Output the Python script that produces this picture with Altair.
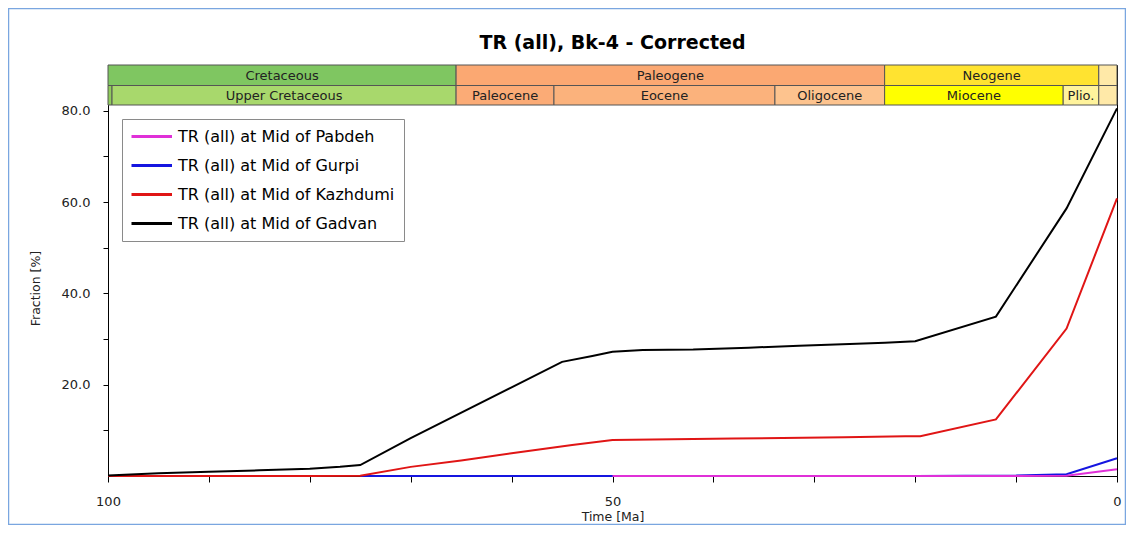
import altair as alt
import pandas as pd

# ---------------- data ----------------
title_text = "TR (all), Bk-4 - Corrected"
series_labels = ["TR (all) at Mid of Pabdeh", "TR (all) at Mid of Gurpi",
                 "TR (all) at Mid of Kazhdumi", "TR (all) at Mid of Gadvan"]
series_colors = ["#E030D8", "#1515E0", "#E01515", "#000000"]

pabdeh_t = [50, 40, 30, 20, 10, 5, 0]
pabdeh_v = [0, 0, 0, 0, 0, 0.05, 1.5]
gurpi_t = [75, 65, 50, 30, 20, 10, 5, 0]
gurpi_v = [0, 0, 0, 0, 0, 0.1, 0.4, 3.9]
kazhdumi_t = [100, 90, 80, 75, 70, 65, 60, 54, 50, 38, 27, 21, 19.5, 12, 5, 0]
kazhdumi_v = [0, 0, 0, 0.05, 2.0, 3.4, 5.0, 6.8, 7.9, 8.2, 8.5, 8.7, 8.7, 12.4, 32.3, 60.8]
gadvan_t = [100, 95, 90, 85, 80, 77, 75, 70, 60, 55, 52, 50, 47, 42, 36.5, 31.5,
            26.5, 23, 20, 12, 5, 0]
gadvan_v = [0.1, 0.6, 0.95, 1.25, 1.6, 2.0, 2.4, 8.3, 19.4, 25.0, 26.3, 27.2, 27.6,
            27.7, 28.1, 28.5, 28.9, 29.2, 29.5, 34.9, 58.6, 80.5]

period_names = ["Cretaceous", "Paleogene", "Neogene", ""]
period_start = [100, 65.5, 23.03, 1.806]
period_end = [65.5, 23.03, 1.806, 0]
period_colors = ["#7FC661", "#FBA872", "#FFE330", "#FFE9A8"]

epoch_names = ["", "Upper Cretaceous", "Paleocene", "Eocene", "Oligocene",
               "Miocene", "Plio.", ""]
epoch_start = [100, 99.6, 65.5, 55.8, 33.9, 23.03, 5.332, 1.806]
epoch_end = [99.6, 65.5, 55.8, 33.9, 23.03, 5.332, 1.806, 0]
epoch_colors = ["#8FCB5A", "#A8D86C", "#FBAB76", "#FBB27C", "#FDC38E",
                "#FFFF00", "#FFF39C", "#FFE9A8"]

x_ticks = list(range(0, 101, 10))
y_ticks = list(range(10, 81, 10))

# ---------------- tables ----------------
series_data = {
    "TR (all) at Mid of Pabdeh": (pabdeh_t, pabdeh_v),
    "TR (all) at Mid of Gurpi": (gurpi_t, gurpi_v),
    "TR (all) at Mid of Kazhdumi": (kazhdumi_t, kazhdumi_v),
    "TR (all) at Mid of Gadvan": (gadvan_t, gadvan_v),
}
draw_order = ["TR (all) at Mid of Gurpi", "TR (all) at Mid of Pabdeh",
              "TR (all) at Mid of Kazhdumi", "TR (all) at Mid of Gadvan"]

periods = pd.DataFrame({"name": period_names, "start": period_start,
                        "end": period_end, "col": period_colors})
periods["mid"] = (periods["start"] + periods["end"]) / 2
epochs = pd.DataFrame({"name": epoch_names, "start": epoch_start,
                       "end": epoch_end, "col": epoch_colors})
epochs["mid"] = (epochs["start"] + epochs["end"]) / 2

FONT = "DejaVu Sans"
xscale = alt.Scale(domain=[0, 100], reverse=True, nice=False, zero=False)
yscale = alt.Scale(domain=[0, 90], nice=False, zero=True)

x_axis = alt.Axis(
    values=x_ticks, title="Time [Ma]",
    labelExpr="datum.value % 50 == 0 ? format(datum.value, 'd') : ''",
    labelFlush=False, labelOverlap=False, labelBound=False,
    tickSize=6, labelPadding=13, titlePadding=2,
    labelFont=FONT, labelFontSize=13, labelColor="#222",
    titleFont=FONT, titleFontSize=12.5, titleFontWeight="normal", titleColor="#222",
    grid=False, domainColor="#000", tickColor="#000")
y_axis = alt.Axis(
    values=y_ticks, title="Fraction [%]",
    labelExpr="datum.value % 20 == 0 ? format(datum.value, '.1f') : ''",
    labelOverlap=False, labelBound=False,
    tickSize=5, labelPadding=13,
    labelFont=FONT, labelFontSize=13, labelColor="#222",
    titleFont=FONT, titleFontSize=12.5, titleFontWeight="normal", titleColor="#222",
    titleX=-73, titleY=223, titleAngle=270, titleAlign="center", titleBaseline="middle",
    grid=False, domainColor="#000", tickColor="#000")

color = alt.Color(
    "series:N",
    scale=alt.Scale(domain=series_labels, range=series_colors),
    legend=alt.Legend(
        title=None, orient="none", legendX=14, legendY=54,
        symbolType="stroke", symbolSize=1764, symbolStrokeWidth=3,
        symbolOffset=-3, clipHeight=16,
        labelFont=FONT, labelFontSize=16, labelColor="#000", labelLimit=400,
        labelOffset=4.5, rowPadding=13, padding=9.5,
        strokeColor="#8a8a8a", fillColor="#ffffff", cornerRadius=0))

X = lambda f: alt.X(f, scale=xscale, axis=x_axis)

layers = []
for name in draw_order:
    t, v = series_data[name]
    df = pd.DataFrame({"t": t, "v": v, "series": name})
    layers.append(
        alt.Chart(df).mark_line(strokeWidth=2).encode(
            x=X("t:Q"),
            y=alt.Y("v:Q", scale=yscale, axis=y_axis),
            color=color))

period_rect = alt.Chart(periods).mark_rect(stroke="#555", strokeWidth=1).encode(
    x=X("start:Q"), x2="end:Q",
    y=alt.value(0), y2=alt.value(20.5),
    fill=alt.Fill("col:N", scale=None))
period_text = alt.Chart(periods).mark_text(font=FONT, fontSize=13, color="#222",
                                           baseline="middle").encode(
    x=X("mid:Q"), y=alt.value(10.5), text="name:N")
epoch_rect = alt.Chart(epochs).mark_rect(stroke="#555", strokeWidth=1).encode(
    x=X("start:Q"), x2="end:Q",
    y=alt.value(20.5), y2=alt.value(40),
    fill=alt.Fill("col:N", scale=None))
epoch_text = alt.Chart(epochs).mark_text(font=FONT, fontSize=13, color="#222",
                                         baseline="middle").encode(
    x=X("mid:Q"), y=alt.value(30.5), text="name:N")

title_mark = alt.Chart(pd.DataFrame({"t": [title_text]})).mark_text(
    font=FONT, fontSize=19, fontWeight="bold", color="#000", baseline="middle").encode(
    text="t:N", x=alt.value(504.5), y=alt.value(-22))

frame = alt.Chart(pd.DataFrame({"a": [0]})).mark_rect(
    fillOpacity=0, stroke="#7AA6E0", strokeWidth=1.5).encode(
    x=alt.value(-99.5), x2=alt.value(1017.5), y=alt.value(-56.5), y2=alt.value(459.5))

chart = alt.layer(*layers, period_rect, period_text, epoch_rect, epoch_text,
                  title_mark, frame).properties(
    width=1009, height=411,
    autosize=alt.AutoSizeParams(type="none"),
    padding={"left": 100, "top": 57, "right": 9, "bottom": 49},
    background="#ffffff",
).configure_view(stroke="#000", strokeWidth=1)

chart.save("out.html", embed_options={"renderer": "svg", "actions": False})
